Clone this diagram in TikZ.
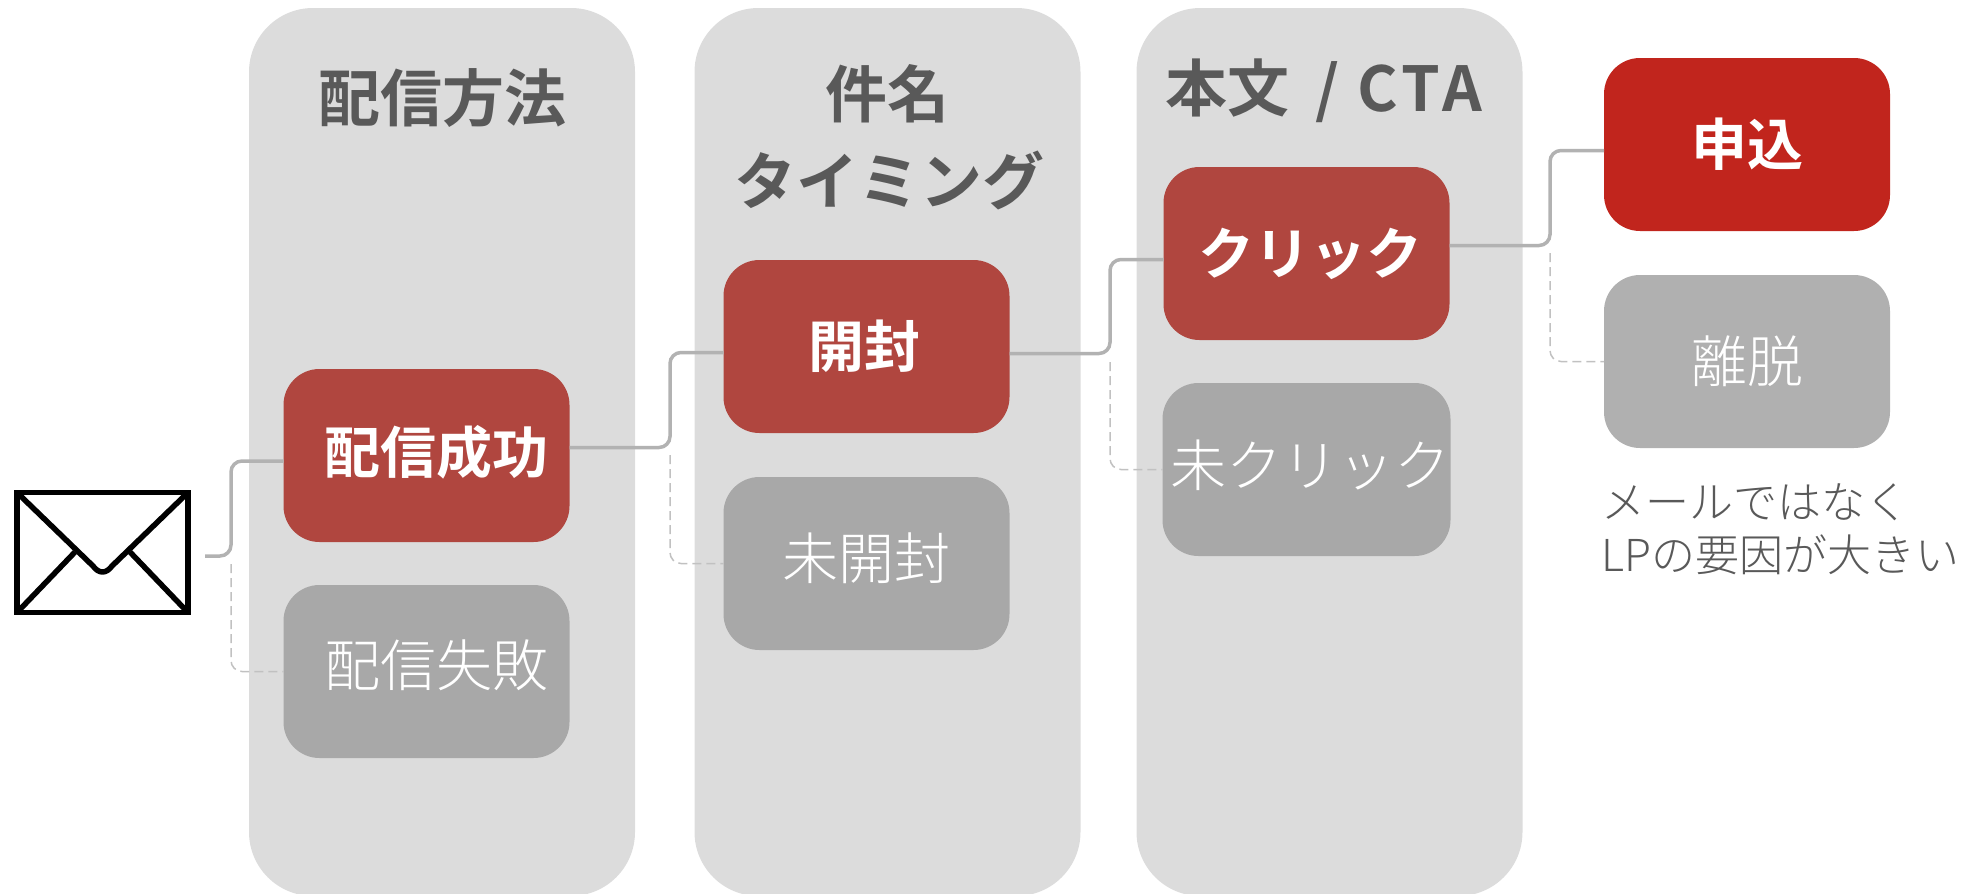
\documentclass[tikz,border=0pt]{standalone}
\usepackage{fontspec}
\usetikzlibrary{calc}
\setmainfont{Noto Sans CJK JP}
\newfontfamily\jpbold{Noto Sans CJK JP Bold}
\newfontfamily\jplight{Noto Sans CJK JP Light}
\definecolor{panelgray}{HTML}{DCDCDC}
\definecolor{softred}{HTML}{B0463F}
\definecolor{strongred}{HTML}{C1251D}
\definecolor{midgray}{HTML}{A8A8A8}
\definecolor{palegray}{HTML}{B0B0B0}
\definecolor{linegray}{HTML}{B2B2B2}
\definecolor{textgray}{HTML}{595959}
\tikzset{
  panel/.style={fill=panelgray,draw=none,rounded corners=64,minimum width=386,minimum height=888,inner sep=0,outer sep=0},
  flowbox/.style={rounded corners=36,minimum width=286,minimum height=173,inner sep=0,outer sep=0,text=white},
  hitbox/.style={flowbox,fill=softred,font=\jpbold\fontsize{56}{60}\selectfont},
  finalbox/.style={flowbox,fill=strongred,font=\jpbold\fontsize{56}{60}\selectfont},
  missbox/.style={flowbox,fill=midgray,font=\jplight\fontsize{56}{60}\selectfont},
  exitbox/.style={flowbox,fill=palegray,font=\jplight\fontsize{56}{60}\selectfont},
  coltitle/.style={text=textgray,font=\jpbold\fontsize{62}{84}\selectfont,align=center,inner sep=0},
  note/.style={text=textgray,font=\jplight\fontsize{44}{53}\selectfont,align=left,inner sep=0,anchor=north west},
  flowline/.style={draw=linegray,line width=3.5,rounded corners=11},
  dashline/.style={draw=linegray!80,line width=1.5,dash pattern=on 9 off 5,rounded corners=11},
  envline/.style={draw=black,line width=5.5}
}
\begin{document}
\begin{tikzpicture}[x=1pt,y=-1pt]
\useasboundingbox (0,0) rectangle (1982,894);
% panels
\begin{scope}
\clip (0,0) rectangle (1982,894);
\node[panel] (p1) at (442,452) {};
\node[panel] (p2) at (887.5,452) {};
\node[panel] (p3) at (1329.5,452) {};
\end{scope}
% titles
\node[coltitle] (t1) at (442.5,98) {配信方法};
\node[coltitle] (t2a) at (887,94) {件名};
\node[coltitle] (t2b) at (889,180) {タイミング};
\node[coltitle] (t3) at (1324,91) {本文\hspace{26pt}/\hspace{18pt}{\addfontfeature{LetterSpace=7}CTA}};
% boxes
\node[hitbox] (a) at (426.5,455.5) {\hspace*{19pt}\raisebox{12pt}{配信成功}};
\node[missbox] (b) at (426.5,671.5) {\hspace*{19pt}\raisebox{17pt}{配信失敗}};
\node[hitbox] (c) at (866.5,346.5) {\hspace*{-5pt}\raisebox{4pt}{開封}};
\node[missbox] (d) at (866.5,563.5) {\raisebox{14pt}{未開封}};
\node[hitbox] (e) at (1306.5,253.5) {\hspace*{8pt}\raisebox{5pt}{クリック}};
\node[missbox] (f) at (1306.5,469.5) {\hspace*{8pt}\raisebox{12pt}{未クリック}};
\node[finalbox] (g) at (1747,144.5) {\raisebox{3pt}{申込}};
\node[exitbox] (h) at (1747,361.5) {\raisebox{1pt}{離脱}};
% note
\node[note] (n) at (1601,483) {メールではなく\\LPの要因が大きい};
% envelope
\node[draw=black,fill=white,line width=5.5,minimum width=171,minimum height=120,inner sep=0,outer sep=0] (mail) at (102.5,552.5) {};
\draw[envline,line join=round] (mail.north west) -- (93,566) .. controls (99,574) and (106,574) .. (112,566) -- (mail.north east);
\draw[envline] (mail.south west) -- (75,552);
\draw[envline] (mail.south east) -- (130,552);
% connectors
\coordinate (start) at (205,556);
\coordinate (bend1) at (231,556);
\coordinate (bend2) at (670,447);
\coordinate (bend3) at (1110,354);
\coordinate (bend4) at (1550,245);
\coordinate (dash1) at (231,564);
\coordinate (dash2) at (670,455);
\coordinate (dash3) at (1110,362);
\coordinate (dash4) at (1550,253);
\coordinate (ain) at ($(a.west)+(0,5.5)$);
\coordinate (aout) at ($(a.east)+(0,-8)$);
\coordinate (cin) at ($(c.west)+(0,6)$);
\coordinate (cout) at ($(c.east)+(0,7)$);
\coordinate (ein) at ($(e.west)+(0,6)$);
\coordinate (eout) at ($(e.east)+(0,-8)$);
\coordinate (gin) at ($(g.west)+(0,6)$);
\draw[dashline] (dash1) |- (b.west);
\draw[dashline] (dash2) |- (d.west);
\draw[dashline] (dash3) |- (f.west);
\draw[dashline] (dash4) |- (h.west);
\draw[flowline] (start) -- (bend1) -- (bend1 |- ain) -- (ain);
\draw[flowline] (aout) -- (bend2 |- aout) -- (bend2 |- cin) -- (cin);
\draw[flowline] (cout) -- (bend3 |- cout) -- (bend3 |- ein) -- (ein);
\draw[flowline] (eout) -- (bend4 |- eout) -- (bend4 |- gin) -- (gin);
\end{tikzpicture}
\end{document}
